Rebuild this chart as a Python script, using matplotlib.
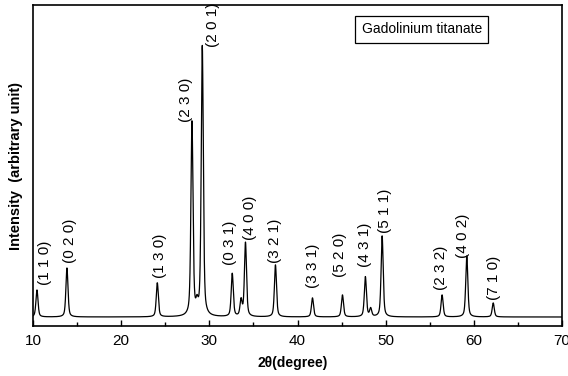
import numpy as np
import matplotlib
matplotlib.use("Agg")
import matplotlib.pyplot as plt

# Pics indexés (2θ en degrés, hauteur au-dessus du fond en unités arbitraires)
hkl = ["(1 1 0)", "(0 2 0)", "(1 3 0)", "(2 3 0)", "(2 0 1)", "(0 3 1)", "(4 0 0)",
       "(3 2 1)", "(3 3 1)", "(5 2 0)", "(4 3 1)", "(5 1 1)", "(2 3 2)", "(4 0 2)",
       "(7 1 0)"]
pos = [10.45, 13.85, 24.1, 28.03, 29.2, 32.6, 34.1,
       37.5, 41.7, 45.1, 47.7, 49.6, 56.4, 59.2, 62.2]
haut = [27, 49, 34, 194, 270, 43, 74,
        52, 19, 22, 40, 81, 22, 61, 14]

# petits épaulements non indexés
pos_mineurs = [33.6, 28.6, 48.3]
haut_mineurs = [16, 10, 8]

fond = 9

# décalage des étiquettes (pixels) : dx, dy
decalages = [(8, 5), (3, 5), (3, 5), (-6, 1), (11, 0), (-2, 9), (5, 3),
             (0, 2), (1, 10), (-2, 18), (0, 10), (3, 3), (-1, 5), (-4, -2),
             (1, 3)]


def profil(x, x0, h, fwhm=0.28, eta=0.5):
    g = np.exp(-4 * np.log(2) * (x - x0) ** 2 / fwhm ** 2)
    l = 1 / (1 + 4 * (x - x0) ** 2 / fwhm ** 2)
    return h * (eta * l + (1 - eta) * g)


x = np.linspace(10, 70, 6000)
y = np.full_like(x, fond, dtype=float)
for p, h in zip(pos + pos_mineurs, haut + haut_mineurs):
    y += profil(x, p, h)

plt.rcParams["font.family"] = ["Liberation Sans", "DejaVu Sans"]

fig = plt.figure(figsize=(5.68, 3.76), dpi=100)
ax = fig.add_axes([33 / 568, 50 / 376, 529 / 568, 321 / 376])
ax.plot(x, y, color="black", lw=0.9)

for lab, p, h, (dx, dy) in zip(hkl, pos, haut, decalages):
    ax.annotate(lab, xy=(p, h + fond), xytext=(dx, dy), textcoords="offset pixels",
                rotation=90, ha="center", va="bottom", fontsize=11)

ax.set_xlim(10, 70)
ax.set_ylim(0, 321)
ax.set_xticks(range(10, 71, 10))
ax.set_xticks(range(15, 70, 10), minor=True)
ax.set_yticks([])
ax.tick_params(axis="x", which="major", direction="in", length=4, width=1,
               labelsize=11, pad=6)
ax.tick_params(axis="x", which="minor", direction="in", length=3, width=1)
for s in ax.spines.values():
    s.set_linewidth(1.2)

ax.set_xlabel("2θ(degree)", fontsize=10, fontweight="bold", labelpad=4)
ax.xaxis.set_label_coords(0.49, -0.095)
ax.set_ylabel("Intensity  (arbitrary unit)", fontsize=10.5, fontweight="bold", labelpad=7)

ax.text(0.735, 0.924, "Gadolinium titanate", transform=ax.transAxes, ha="center",
        va="center", fontsize=10,
        bbox=dict(boxstyle="square,pad=0.45", fc="white", ec="black", lw=0.9))

fig.savefig("out.png", dpi=100)
